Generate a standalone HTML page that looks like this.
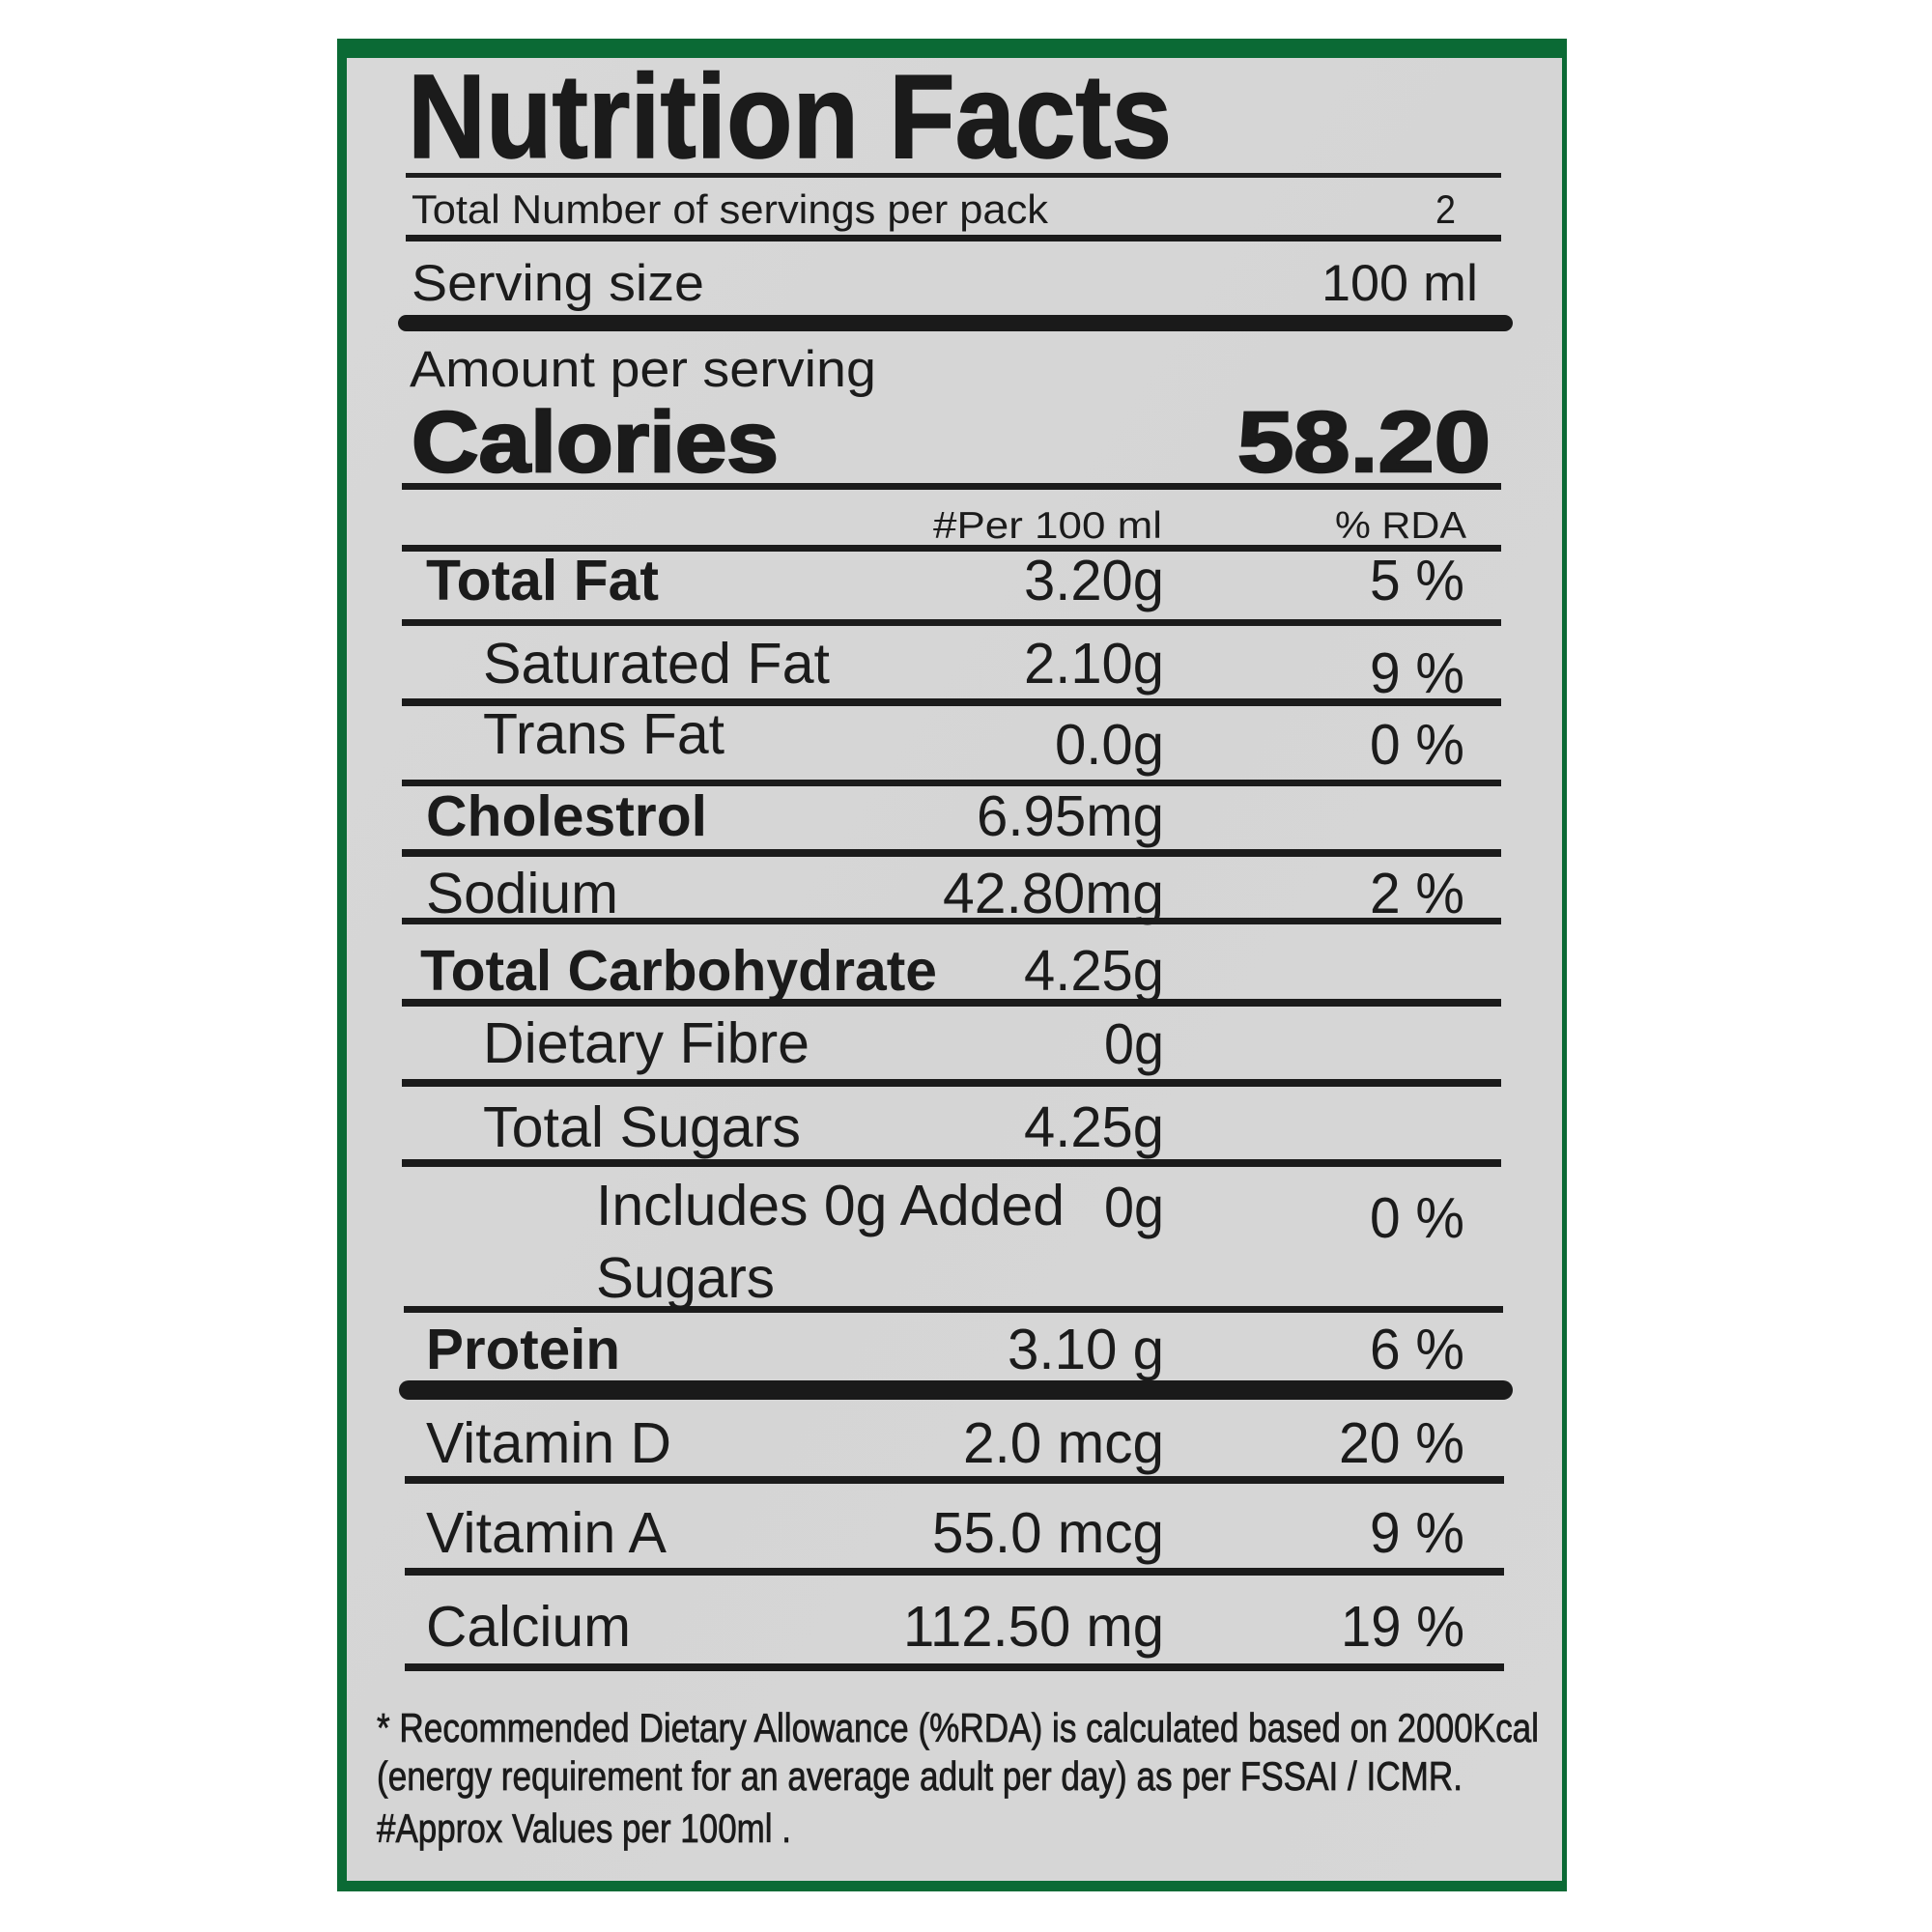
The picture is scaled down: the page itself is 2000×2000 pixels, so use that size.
<!DOCTYPE html>
<html>
<head>
<meta charset="utf-8">
<style>
html,body{margin:0;padding:0;background:#fff;}
svg{display:block;}
text{font-family:"Liberation Sans",Arial,sans-serif;fill:#1b1b1b;}
.b{font-weight:bold;}
</style>
</head>
<body>
<svg width="2000" height="2000" viewBox="0 0 2000 2000" xmlns="http://www.w3.org/2000/svg">
<defs>
<linearGradient id="bg" x1="0" y1="0" x2="1" y2="1">
<stop offset="0" stop-color="#d8d8d8"/>
<stop offset="0.5" stop-color="#d5d5d5"/>
<stop offset="1" stop-color="#d7d7d7"/>
</linearGradient>
</defs>
<rect x="0" y="0" width="2000" height="2000" fill="#ffffff"/>
<rect x="349" y="40" width="1273" height="1918" fill="#0b6a35"/>
<rect x="359" y="60" width="1258" height="1887" fill="url(#bg)"/>

<!-- Title -->
<text class="b" x="422" y="163" font-size="123" textLength="791" lengthAdjust="spacingAndGlyphs" stroke="#1b1b1b" stroke-width="1.5">Nutrition Facts</text>
<rect x="420" y="179" width="1134" height="5" fill="#1e1e1e"/>

<text x="426" y="231" font-size="42" textLength="659" lengthAdjust="spacingAndGlyphs">Total Number of servings per pack</text>
<text x="1486" y="231" font-size="42" textLength="21" lengthAdjust="spacingAndGlyphs">2</text>
<rect x="420" y="243" width="1134" height="7" fill="#1b1b1b"/>

<text x="426" y="311" font-size="53" textLength="303" lengthAdjust="spacingAndGlyphs">Serving size</text>
<text x="1368" y="311" font-size="53" textLength="162" lengthAdjust="spacingAndGlyphs">100 ml</text>
<rect x="412" y="326" width="1154" height="17" rx="8.5" fill="#1a1a1a"/>

<text x="424" y="400" font-size="53" textLength="483" lengthAdjust="spacingAndGlyphs">Amount per serving</text>
<text class="b" x="426" y="488" font-size="89" textLength="380" lengthAdjust="spacingAndGlyphs" stroke="#1b1b1b" stroke-width="2.5">Calories</text>
<text class="b" x="1281" y="488" font-size="89" textLength="262" lengthAdjust="spacingAndGlyphs" stroke="#1b1b1b" stroke-width="2.5">58.20</text>
<rect x="416" y="500" width="1138" height="7" fill="#1b1b1b"/>

<text x="966" y="557" font-size="39" textLength="237" lengthAdjust="spacingAndGlyphs">#Per 100 ml</text>
<text x="1382" y="557" font-size="39" textLength="136" lengthAdjust="spacingAndGlyphs">% RDA</text>
<rect x="416" y="564" width="1138" height="7" fill="#1b1b1b"/>

<!-- Total Fat -->
<text class="b" x="441" y="621" font-size="59" textLength="241" lengthAdjust="spacingAndGlyphs">Total Fat</text>
<text x="1060" y="621" font-size="59" textLength="145" lengthAdjust="spacingAndGlyphs">3.20g</text>
<text x="1418" y="621" font-size="59" textLength="98" lengthAdjust="spacingAndGlyphs">5 %</text>
<rect x="416" y="641" width="1138" height="7" fill="#1b1b1b"/>

<!-- Saturated Fat -->
<text x="500" y="707" font-size="59" textLength="359" lengthAdjust="spacingAndGlyphs">Saturated Fat</text>
<text x="1060" y="707" font-size="59" textLength="145" lengthAdjust="spacingAndGlyphs">2.10g</text>
<text x="1418" y="717" font-size="59" textLength="98" lengthAdjust="spacingAndGlyphs">9 %</text>
<rect x="416" y="723" width="1138" height="8" fill="#1b1b1b"/>

<!-- Trans Fat -->
<text x="500" y="780" font-size="59" textLength="250" lengthAdjust="spacingAndGlyphs">Trans Fat</text>
<text x="1092" y="791" font-size="59" textLength="113" lengthAdjust="spacingAndGlyphs">0.0g</text>
<text x="1418" y="791" font-size="59" textLength="98" lengthAdjust="spacingAndGlyphs">0 %</text>
<rect x="416" y="807" width="1138" height="7" fill="#1b1b1b"/>

<!-- Cholestrol -->
<text class="b" x="441" y="865" font-size="59" textLength="291" lengthAdjust="spacingAndGlyphs">Cholestrol</text>
<text x="1011" y="865" font-size="59" textLength="194" lengthAdjust="spacingAndGlyphs">6.95mg</text>
<rect x="416" y="879" width="1138" height="8" fill="#1b1b1b"/>

<!-- Sodium -->
<text x="441" y="945" font-size="59" textLength="199" lengthAdjust="spacingAndGlyphs">Sodium</text>
<text x="976" y="945" font-size="59" textLength="229" lengthAdjust="spacingAndGlyphs">42.80mg</text>
<text x="1418" y="945" font-size="59" textLength="98" lengthAdjust="spacingAndGlyphs">2 %</text>
<rect x="416" y="950" width="1138" height="7" fill="#1b1b1b"/>

<!-- Total Carbohydrate -->
<text class="b" x="435" y="1025" font-size="59" textLength="535" lengthAdjust="spacingAndGlyphs">Total Carbohydrate</text>
<text x="1060" y="1025" font-size="59" textLength="145" lengthAdjust="spacingAndGlyphs">4.25g</text>
<rect x="416" y="1034" width="1138" height="8" fill="#1b1b1b"/>

<!-- Dietary Fibre -->
<text x="500" y="1100" font-size="59" textLength="338" lengthAdjust="spacingAndGlyphs">Dietary Fibre</text>
<text x="1143" y="1101" font-size="59" textLength="62" lengthAdjust="spacingAndGlyphs">0g</text>
<rect x="416" y="1117" width="1138" height="8" fill="#1b1b1b"/>

<!-- Total Sugars -->
<text x="500" y="1187" font-size="59" textLength="329" lengthAdjust="spacingAndGlyphs">Total Sugars</text>
<text x="1060" y="1187" font-size="59" textLength="145" lengthAdjust="spacingAndGlyphs">4.25g</text>
<rect x="416" y="1200" width="1138" height="8" fill="#1b1b1b"/>

<!-- Added sugars -->
<text x="617" y="1268" font-size="59" textLength="485" lengthAdjust="spacingAndGlyphs">Includes 0g Added</text>
<text x="1143" y="1270" font-size="59" textLength="62" lengthAdjust="spacingAndGlyphs">0g</text>
<text x="1418" y="1281" font-size="59" textLength="98" lengthAdjust="spacingAndGlyphs">0 %</text>
<text x="617" y="1343" font-size="59" textLength="185" lengthAdjust="spacingAndGlyphs">Sugars</text>
<rect x="418" y="1352" width="1138" height="7" fill="#1b1b1b"/>

<!-- Protein -->
<text class="b" x="441" y="1417" font-size="59" textLength="201" lengthAdjust="spacingAndGlyphs">Protein</text>
<text x="1043" y="1417" font-size="59" textLength="162" lengthAdjust="spacingAndGlyphs">3.10 g</text>
<text x="1418" y="1417" font-size="59" textLength="98" lengthAdjust="spacingAndGlyphs">6 %</text>
<rect x="413" y="1429" width="1153" height="20" rx="10" fill="#1a1a1a"/>

<!-- Vitamin D -->
<text x="441" y="1514" font-size="59" textLength="254" lengthAdjust="spacingAndGlyphs">Vitamin D</text>
<text x="997" y="1514" font-size="59" textLength="208" lengthAdjust="spacingAndGlyphs">2.0 mcg</text>
<text x="1386" y="1514" font-size="59" textLength="130" lengthAdjust="spacingAndGlyphs">20 %</text>
<rect x="419" y="1528" width="1138" height="8" fill="#1b1b1b"/>

<!-- Vitamin A -->
<text x="441" y="1607" font-size="59" textLength="249" lengthAdjust="spacingAndGlyphs">Vitamin A</text>
<text x="965" y="1607" font-size="59" textLength="240" lengthAdjust="spacingAndGlyphs">55.0 mcg</text>
<text x="1418" y="1607" font-size="59" textLength="98" lengthAdjust="spacingAndGlyphs">9 %</text>
<rect x="419" y="1623" width="1138" height="8" fill="#1b1b1b"/>

<!-- Calcium -->
<text x="441" y="1704" font-size="59" textLength="212" lengthAdjust="spacingAndGlyphs">Calcium</text>
<text x="935" y="1704" font-size="59" textLength="270" lengthAdjust="spacingAndGlyphs">112.50 mg</text>
<text x="1388" y="1704" font-size="59" textLength="128" lengthAdjust="spacingAndGlyphs">19 %</text>
<rect x="419" y="1722" width="1138" height="8" fill="#1b1b1b"/>

<!-- Footnote -->
<text x="390" y="1803" font-size="42" textLength="1203" lengthAdjust="spacingAndGlyphs" stroke="#1b1b1b" stroke-width="0.8">* Recommended Dietary Allowance (%RDA) is calculated based on 2000Kcal</text>
<text x="390" y="1853" font-size="42" textLength="1124" lengthAdjust="spacingAndGlyphs" stroke="#1b1b1b" stroke-width="0.8">(energy requirement for an average adult per day) as per FSSAI / ICMR.</text>
<text x="390" y="1907" font-size="42" textLength="429" lengthAdjust="spacingAndGlyphs" stroke="#1b1b1b" stroke-width="0.8">#Approx Values per 100ml .</text>
</svg>
</body>
</html>
